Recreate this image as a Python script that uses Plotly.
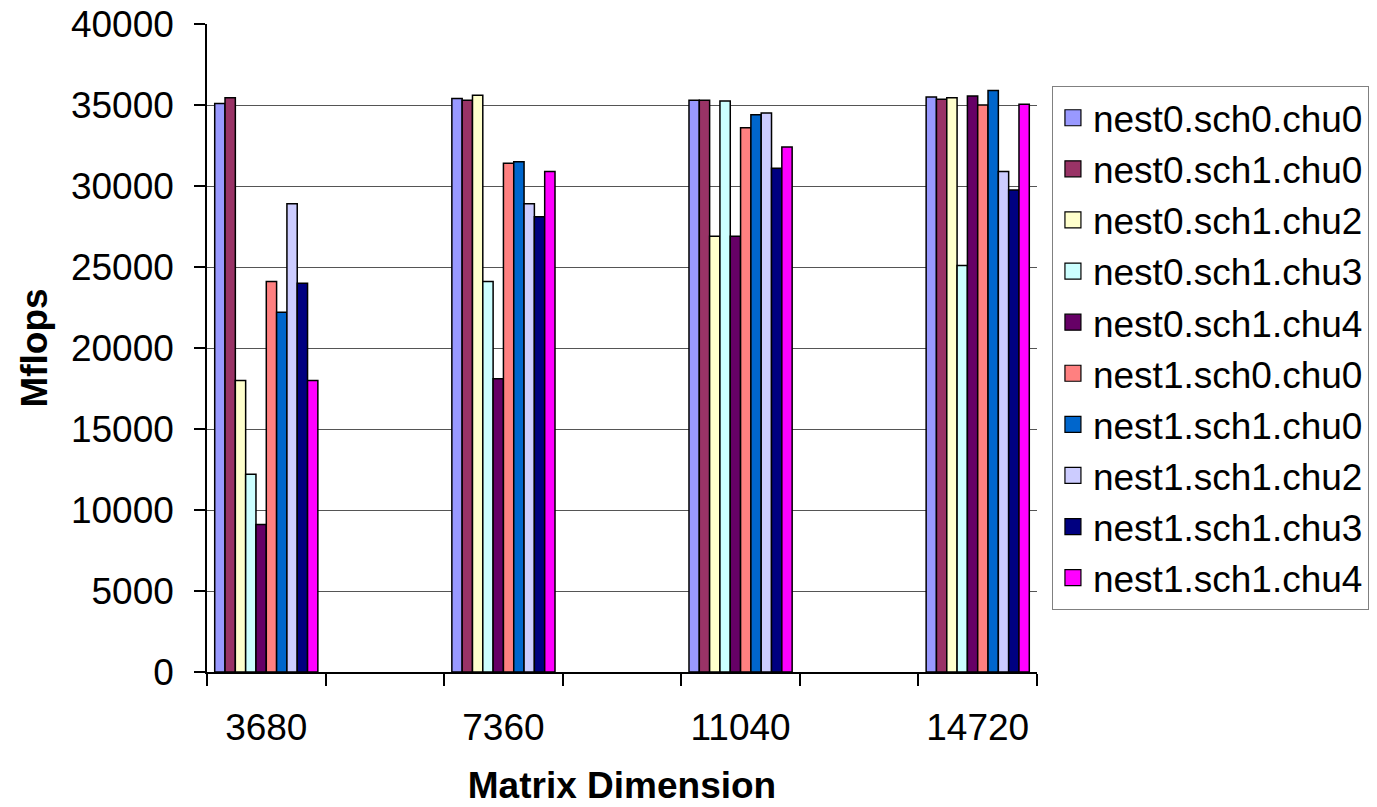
import plotly.graph_objects as go

categories = ["3680", "7360", "11040", "14720"]
series_names = [
    "nest0.sch0.chu0", "nest0.sch1.chu0", "nest0.sch1.chu2", "nest0.sch1.chu3",
    "nest0.sch1.chu4", "nest1.sch0.chu0", "nest1.sch1.chu0", "nest1.sch1.chu2",
    "nest1.sch1.chu3", "nest1.sch1.chu4",
]
nest0_sch0_chu0 = [35100, 35400, 35300, 35500]
nest0_sch1_chu0 = [35450, 35300, 35300, 35350]
nest0_sch1_chu2 = [18000, 35600, 26900, 35450]
nest0_sch1_chu3 = [12200, 24100, 35250, 25100]
nest0_sch1_chu4 = [9100, 18100, 26900, 35550]
nest1_sch0_chu0 = [24100, 31400, 33600, 35000]
nest1_sch1_chu0 = [22200, 31500, 34400, 35900]
nest1_sch1_chu2 = [28900, 28900, 34500, 30900]
nest1_sch1_chu3 = [24000, 28100, 31100, 29750]
nest1_sch1_chu4 = [18000, 30900, 32400, 35050]
series_values = [
    nest0_sch0_chu0, nest0_sch1_chu0, nest0_sch1_chu2, nest0_sch1_chu3,
    nest0_sch1_chu4, nest1_sch0_chu0, nest1_sch1_chu0, nest1_sch1_chu2,
    nest1_sch1_chu3, nest1_sch1_chu4,
]
colors = ["#9999FF", "#993366", "#FFFFCC", "#CCFFFF", "#660066",
          "#FF8080", "#0066CC", "#CCCCFF", "#000080", "#FF00FF"]

# categories sit on every other slot of a 7-slot axis (as in the original chart)
xpos = [2 * i for i in range(len(categories))]

FONT = "Liberation Sans, Arial, sans-serif"
fig = go.Figure()
for name, vals, col in zip(series_names, series_values, colors):
    fig.add_trace(go.Bar(
        x=xpos, y=vals, name=name, legendgroup=name, showlegend=False,
        marker=dict(color=col, line=dict(color="#000000", width=1.5)),
    ))
# legend keys: larger square swatches, as in the original legend
for name, col in zip(series_names, colors):
    fig.add_trace(go.Scatter(
        x=[None], y=[None], name=name, legendgroup=name, mode="markers",
        marker=dict(symbol="square", size=16, color=col,
                    line=dict(color="#000000", width=1.2)),
        hoverinfo="skip",
    ))

fig.update_layout(
    width=1377, height=807,
    margin=dict(l=207, r=340, t=24, b=135, autoexpand=False),
    paper_bgcolor="white", plot_bgcolor="white",
    font=dict(family=FONT, size=37, color="black"),
    barmode="group", bargap=0.565, bargroupgap=0,
    showlegend=True,
    legend=dict(
        x=1.018, xanchor="left", y=0.904, yanchor="top",
        bgcolor="white", bordercolor="#808080", borderwidth=1,
        font=dict(family=FONT, size=37, color="black"),
        traceorder="normal", tracegroupgap=0, itemsizing="trace",
    ),
)
fig.update_xaxes(
    range=[-0.5, 6.5], tickmode="array", tickvals=xpos, ticktext=categories,
    ticks="", showgrid=False, zeroline=False,
    showline=True, linecolor="black", linewidth=1.5,
    minor=dict(ticks="outside", tick0=-0.5, dtick=1, ticklen=12, tickcolor="black",
               tickwidth=1.5, showgrid=False),
    ticklabelstandoff=22,
    title=dict(text="<b>Matrix Dimension</b>", font=dict(family=FONT, size=37), standoff=25),
)
fig.update_yaxes(
    range=[0, 40000], dtick=5000, tickformat="d",
    ticks="outside", ticklen=11, tickcolor="black", tickwidth=1.5,
    showgrid=True, gridcolor="#555555", gridwidth=1,
    zeroline=False, showline=True, linecolor="black", linewidth=1.5,
    ticklabelstandoff=13,
    title=dict(text="<b>Mflops</b>", font=dict(family=FONT, size=37), standoff=12),
)

fig.write_html("out.html")
